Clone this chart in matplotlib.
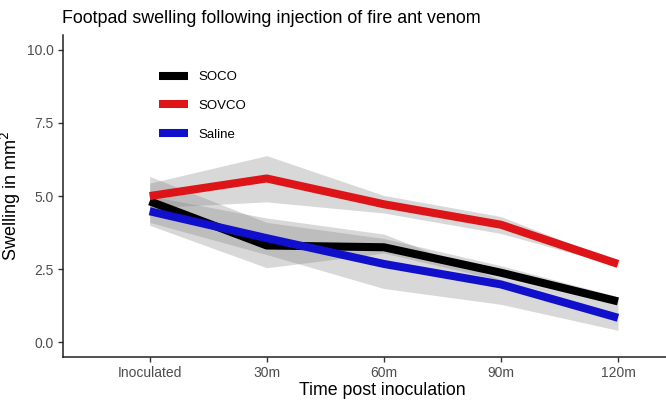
import matplotlib
matplotlib.use("Agg")
import matplotlib.pyplot as plt

plt.rcParams['font.family'] = ['Liberation Sans', 'DejaVu Sans']

times = ['Inoculated', '30m', '60m', '90m', '120m']

soco = [4.82, 3.31, 3.25, 2.38, 1.40]
soco_lo = [4.00, 2.55, 3.05, 2.12, 1.26]
soco_hi = [5.67, 4.10, 3.55, 2.62, 1.56]

sovco = [5.00, 5.60, 4.72, 4.02, 2.68]
sovco_lo = [4.60, 4.80, 4.42, 3.72, 2.62]
sovco_hi = [5.44, 6.38, 5.02, 4.30, 2.74]

saline = [4.48, 3.56, 2.68, 1.98, 0.84]
saline_lo = [4.10, 3.00, 1.84, 1.30, 0.41]
saline_hi = [5.00, 4.25, 3.70, 2.14, 1.26]

series = [
    ('SOCO', soco, soco_lo, soco_hi, '#000000'),
    ('SOVCO', sovco, sovco_lo, sovco_hi, '#DD1518'),
    ('Saline', saline, saline_lo, saline_hi, '#1010CC'),
]

fig = plt.figure(figsize=(6.66, 4.08), dpi=100)
ax = fig.add_axes([0.0946, 0.125, 0.9054, 0.789])

x = list(range(len(times)))
for name, m, lo, hi, c in series:
    ax.fill_between(x, lo, hi, color='#808080', alpha=0.3, linewidth=0)
for name, m, lo, hi, c in series:
    ax.plot(x, m, color=c, linewidth=5.8, solid_capstyle='butt', label=name)

ax.set_xlim(-0.74, 4.41)
ax.set_ylim(-0.5, 10.5)
ax.set_xticks(x)
ax.set_xticklabels(times)
ax.set_yticks([0, 2.5, 5, 7.5, 10])
ax.set_yticklabels(['0.0', '2.5', '5.0', '7.5', '10.0'])

for s in ['top', 'right']:
    ax.spines[s].set_visible(False)
for s in ['left', 'bottom']:
    ax.spines[s].set_linewidth(1.1)
    ax.spines[s].set_color('#222222')
ax.tick_params(axis='both', colors='#333333', labelcolor='#4D4D4D',
               labelsize=10, length=3.5, width=1, pad=3)

ax.set_xlabel('Time post inoculation', fontsize=12.8)
ax.xaxis.set_label_coords(0.53, -0.077)
ax.set_ylabel('Swelling in mm$^2$', fontsize=13)
ax.yaxis.set_label_coords(-0.067, 0.5)
fig.text(0.093, 0.955, 'Footpad swelling following injection of fire ant venom',
         fontsize=12.9, va='center', ha='left')

ax.legend(loc='upper left', bbox_to_anchor=(0.14, 0.925), frameon=False,
          fontsize=9.5, handlelength=2.2, labelspacing=1.25, handletextpad=0.8)

fig.savefig('out.png', dpi=100)
